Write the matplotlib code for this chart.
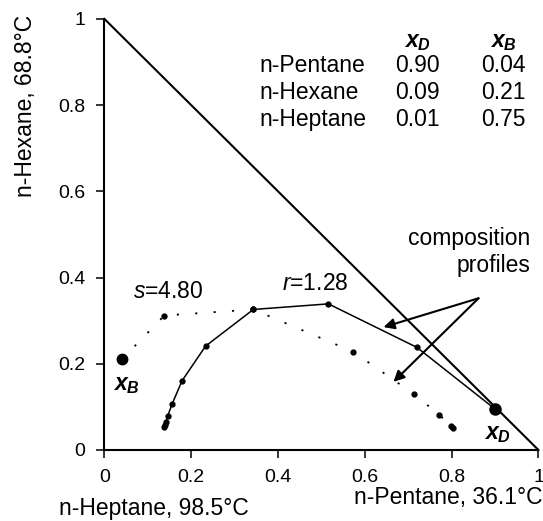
import matplotlib
matplotlib.use("Agg")
from matplotlib import pyplot as plt

plt.rcParams['font.family'] = ['Liberation Sans', 'DejaVu Sans']
plt.rcParams['mathtext.fontset'] = 'custom'
plt.rcParams['mathtext.rm'] = 'Liberation Sans'
plt.rcParams['mathtext.it'] = 'Liberation Sans:italic'
plt.rcParams['mathtext.bf'] = 'Liberation Sans:bold'
plt.rcParams['mathtext.bfit'] = 'Liberation Sans:bold:italic'

# product compositions (pentane, hexane)
xD = [0.90, 0.095]
xB = [0.04, 0.21]

# rectifying profile, r = 1.28 (from xD)
rect_x = [0.90, 0.720, 0.516, 0.343, 0.233, 0.179, 0.156, 0.146, 0.142, 0.140, 0.138]
rect_y = [0.095, 0.238, 0.339, 0.326, 0.241, 0.161, 0.107, 0.080, 0.066, 0.058, 0.054]

# stripping profile, s = 4.80 (from xB)
strip_x = [0.04, 0.138, 0.343, 0.573, 0.714, 0.772, 0.799, 0.803]
strip_y = [0.21, 0.312, 0.326, 0.228, 0.129, 0.081, 0.056, 0.052]

# table of compositions
components = ["n-Pentane", "n-Hexane", "n-Heptane"]
xD_table = ["0.90", "0.09", "0.01"]
xB_table = ["0.04", "0.21", "0.75"]

ticks = [0, 0.2, 0.4, 0.6, 0.8, 1]
tick_labels = ["0", "0.2", "0.4", "0.6", "0.8", "1"]

fig = plt.figure(figsize=(5.43, 5.21), dpi=100)
ax = fig.add_axes([0.1924, 0.1363, 0.7992, 0.8273])

fs = 16.5

# triangle hypotenuse
ax.plot([0, 1], [1, 0], color="black", linewidth=1.5, clip_on=False)

# composition profiles
ax.plot(rect_x, rect_y, color="black", linewidth=1.1, marker="o", markersize=3.5, clip_on=False)
ax.plot(strip_x, strip_y, color="black", linewidth=1.3, linestyle=(0, (1.2, 9)),
        marker="o", markersize=3.5, clip_on=False)
ax.plot(xD[0], xD[1], "o", color="black", markersize=8, clip_on=False)
ax.plot(xB[0], xB[1], "o", color="black", markersize=7.5, clip_on=False)

# arrows to the profiles
tail = (0.862, 0.352)
ax.annotate("", xy=(0.643, 0.285), xytext=tail,
            arrowprops=dict(arrowstyle="-|>", color="black", lw=1.5,
                            mutation_scale=16, shrinkA=0, shrinkB=0))
ax.annotate("", xy=(0.666, 0.158), xytext=tail,
            arrowprops=dict(arrowstyle="-|>", color="black", lw=1.5,
                            mutation_scale=16, shrinkA=0, shrinkB=0))

ax.text(0.982, 0.490, "composition", fontsize=fs, ha="right", va="center")
ax.text(0.982, 0.429, "profiles", fontsize=fs, ha="right", va="center")
ax.text(0.41, 0.387, r"$r$=1.28", fontsize=fs, ha="left", va="center")
ax.text(0.066, 0.367, r"$s$=4.80", fontsize=fs, ha="left", va="center")
ax.text(0.875, 0.039, r"$\mathbfit{x}_{\mathbfit{D}}$", fontsize=fs, ha="left", va="center")
ax.text(0.02, 0.151, r"$\mathbfit{x}_{\mathbfit{B}}$", fontsize=fs, ha="left", va="center")

# composition table
ax.text(0.721, 0.947, r"$\mathbfit{x}_{\mathbfit{D}}$", fontsize=fs, ha="center", va="center")
ax.text(0.919, 0.947, r"$\mathbfit{x}_{\mathbfit{B}}$", fontsize=fs, ha="center", va="center")
row_y = [0.893, 0.829, 0.766]
for i in range(3):
    ax.text(0.357, row_y[i], components[i], fontsize=fs, ha="left", va="center")
    ax.text(0.721, row_y[i], xD_table[i], fontsize=fs, ha="center", va="center")
    ax.text(0.919, row_y[i], xB_table[i], fontsize=fs, ha="center", va="center")

# axis labels
ax.text(1.009, -0.125, "n-Pentane, 36.1°C", fontsize=fs, ha="right", va="baseline", clip_on=False)
ax.text(0.333, -0.151, "n-Heptane, 98.5°C", fontsize=fs, ha="right", va="baseline", clip_on=False)
ax.text(-0.183, 1.009, "n-Hexane, 68.8°C", fontsize=fs, ha="center", va="top",
        rotation=90, clip_on=False)

ax.set_xlim(0, 1)
ax.set_ylim(0, 1)
ax.set_xticks(ticks)
ax.set_xticklabels(tick_labels)
ax.set_yticks(ticks)
ax.set_yticklabels(tick_labels)
ax.tick_params(direction="out", length=5.8, width=1.1, labelsize=14, pad=8)
ax.spines["top"].set_visible(False)
ax.spines["right"].set_visible(False)
ax.spines["left"].set_linewidth(1.5)
ax.spines["bottom"].set_linewidth(1.5)

plt.savefig("out.png", dpi=100)
